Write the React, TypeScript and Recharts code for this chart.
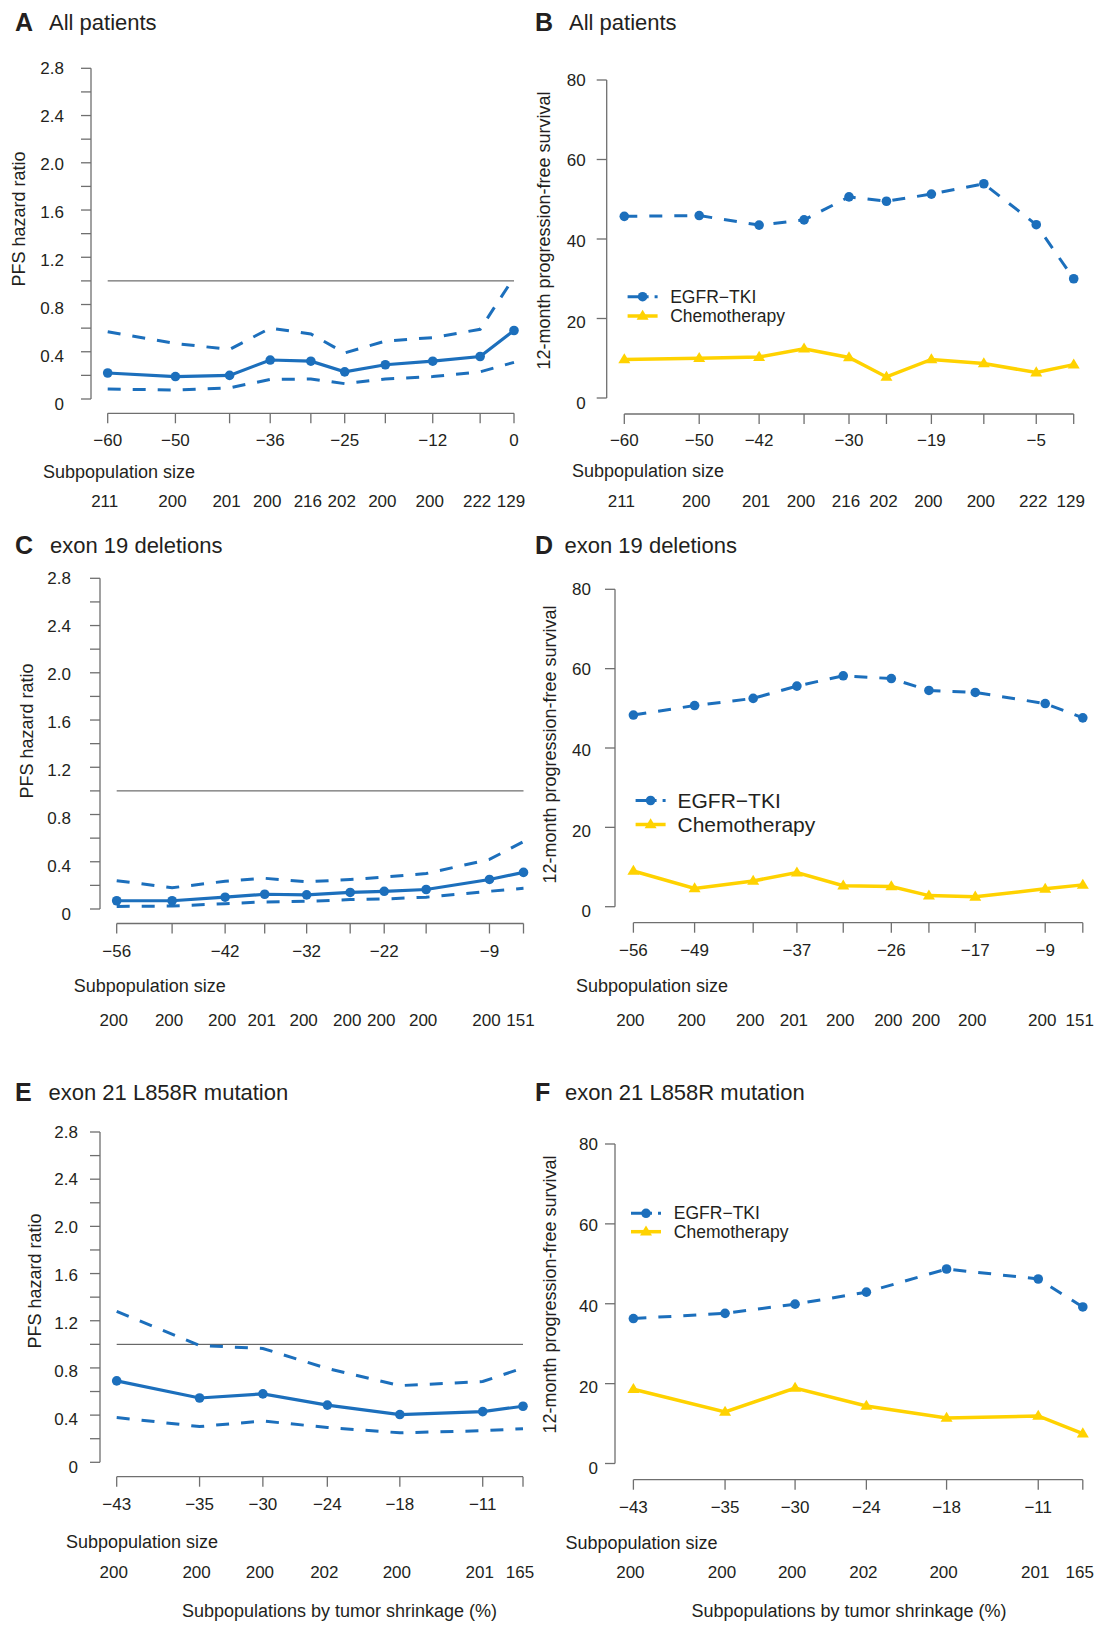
import React from 'react';
import { LineChart, Line, XAxis, YAxis, ReferenceLine } from 'recharts';

const FONT = '"Liberation Sans", Arial, Helvetica, sans-serif';
const BLUE = '#1c6fbc';
const YELLOW = '#ffd200';
const AXIS = '#6f6f6f';
const TEXT = '#231f20';
const TICK = 10;

// ---------- data ----------
const hrTicks = [0, 0.2, 0.4, 0.6, 0.8, 1.0, 1.2, 1.4, 1.6, 1.8, 2.0, 2.2, 2.4, 2.6, 2.8];
const hrTickLabels = ['0', '', '0.4', '', '0.8', '', '1.2', '', '1.6', '', '2.0', '', '2.4', '', '2.8'];
const pfsTicks = [0, 20, 40, 60, 80];
const pfsTickLabels = ['0', '20', '40', '60', '80'];

// All patients
const abX = [-60, -50, -42, -36, -30, -25, -19, -12, -5, 0];
const aXLabels = ['−60', '−50', '', '−36', '', '−25', '', '−12', '', '0'];
const bXLabels = ['−60', '−50', '−42', '', '−30', '', '−19', '', '−5', ''];
const abSizes = [211, 200, 201, 200, 216, 202, 200, 200, 222, 129];
const aHR = [0.22, 0.19, 0.2, 0.33, 0.32, 0.23, 0.29, 0.32, 0.36, 0.58];
const aHi = [0.57, 0.47, 0.42, 0.6, 0.55, 0.39, 0.49, 0.52, 0.59, 1.03];
const aLo = [0.085, 0.075, 0.095, 0.165, 0.17, 0.13, 0.17, 0.19, 0.23, 0.31];
const bTKI = [45.7, 45.9, 43.5, 44.8, 50.6, 49.5, 51.3, 53.9, 43.6, 30.0];
const bChemo = [9.7, 10.0, 10.3, 12.4, 10.2, 5.3, 9.7, 8.7, 6.4, 8.4];

// exon 19 deletions
const cdX = [-56, -49, -42.3, -37.3, -32, -26.5, -22.2, -16.9, -8.9, -4.6];
const cXLabels = ['−56', '', '−42', '', '−32', '', '−22', '', '−9', ''];
const dXLabels = ['−56', '−49', '', '−37', '', '−26', '', '−17', '−9', ''];
const cdSizes = [200, 200, 200, 201, 200, 200, 200, 200, 200, 151];
const cHR = [0.07, 0.07, 0.1, 0.125, 0.12, 0.14, 0.15, 0.165, 0.25, 0.31];
const cHi = [0.24, 0.18, 0.235, 0.26, 0.23, 0.25, 0.27, 0.3, 0.42, 0.57];
const cLo = [0.022, 0.025, 0.045, 0.06, 0.065, 0.08, 0.085, 0.1, 0.15, 0.175];
const dTKI = [48.3, 50.7, 52.5, 55.6, 58.2, 57.5, 54.5, 54.0, 51.2, 47.6];
const dChemo = [9.0, 4.6, 6.5, 8.6, 5.3, 5.1, 2.8, 2.5, 4.5, 5.5];

// exon 21 L858R mutation
const efX = [-42.6, -35.4, -29.9, -24.3, -18, -10.8, -7.3];
const efXLabels = ['−43', '−35', '−30', '−24', '−18', '−11', ''];
const efSizes = [200, 200, 200, 202, 200, 201, 165];
const eHR = [0.69, 0.545, 0.58, 0.485, 0.405, 0.43, 0.475];
const eHi = [1.28, 0.99, 0.965, 0.795, 0.65, 0.685, 0.8];
const eLo = [0.38, 0.303, 0.35, 0.295, 0.25, 0.268, 0.285];
const fTKI = [36.3, 37.6, 39.9, 42.9, 48.7, 46.2, 39.2];
const fChemo = [18.6, 12.9, 18.9, 14.4, 11.4, 11.9, 7.5];

// ---------- helpers ----------
const Triangle = (props: any) => {
  const { cx, cy } = props;
  if (cx == null || cy == null) return <g />;
  const h = 6.2;
  return (
    <polygon
      points={`${cx},${cy - h} ${cx - 6},${cy + h * 0.62} ${cx + 6},${cy + h * 0.62}`}
      fill={YELLOW}
      stroke="none"
    />
  );
};

type Layout = {
  box: { left: number; top: number; width: number; height: number };
  yAxisX: number;
  x0px: number;
  x1px: number;
  yTopPx: number;
  yZeroPx: number;
  xAxisPx: number;
  yLabelGap: number;
  xLabelDy: number;
  sizeDy: number;
};

type PanelProps = {
  layout: Layout;
  kind: 'hr' | 'pfs';
  xs: number[];
  xLabels: string[];
  sizes: number[];
  a: number[];
  b: number[];
  c?: number[];
};

function Panel({ layout, kind, xs, xLabels, sizes, a, b, c }: PanelProps) {
  const { box } = layout;
  const n = xs.length;
  const xFirst = xs[0];
  const xLast = xs[n - 1];
  const yTicks = kind === 'hr' ? hrTicks : pfsTicks;
  const yTickLabels = kind === 'hr' ? hrTickLabels : pfsTickLabels;
  const yMax = yTicks[yTicks.length - 1];
  const pxX = (layout.x1px - layout.x0px) / (xLast - xFirst);
  const xMin = xFirst - (layout.x0px - layout.yAxisX) / pxX;
  const pxY = (layout.yZeroPx - layout.yTopPx) / yMax;
  const yMin = -(layout.xAxisPx - layout.yZeroPx) / pxY;
  const YW = 60;
  const XH = 110;
  const margin = {
    left: layout.yAxisX - box.left - YW,
    top: layout.yTopPx - box.top,
    right: box.left + box.width - layout.x1px,
    bottom: box.top + box.height - layout.xAxisPx - XH,
  };

  const data = xs.map((x, i) =>
    kind === 'hr'
      ? { x, hr: a[i], lo: b[i], hi: (c as number[])[i] }
      : { x, tki: a[i], chemo: b[i] }
  );

  const renderYTick = (p: any) => {
    const v = p.payload.value;
    const idx = yTicks.indexOf(v);
    const lab = idx >= 0 ? yTickLabels[idx] : '';
    if (!lab) return <g />;
    const drift = 5 * (1 - v / yMax);
    return (
      <text
        x={p.x - (layout.yLabelGap - TICK)}
        y={p.y + drift}
        textAnchor="end"
        dominantBaseline="central"
        fontSize={17}
        fill={TEXT}
      >
        {lab}
      </text>
    );
  };

  const renderXTick = (p: any) => {
    const v = p.payload.value;
    const idx = xs.indexOf(v);
    const axisY = p.y - TICK;
    const lab = idx >= 0 ? xLabels[idx] : '';
    return (
      <g>
        {lab ? (
          <text x={p.x} y={axisY + layout.xLabelDy} textAnchor="middle" dominantBaseline="central" fontSize={17} fill={TEXT}>
            {lab}
          </text>
        ) : null}
        {idx >= 0 ? (
          <text x={p.x - 3} y={axisY + layout.sizeDy} textAnchor="middle" dominantBaseline="central" fontSize={17} fill={TEXT}>
            {sizes[idx]}
          </text>
        ) : null}
      </g>
    );
  };

  return (
    <div style={{ position: 'absolute', left: box.left, top: box.top, width: box.width, height: box.height }}>
      <LineChart width={box.width} height={box.height} data={data} margin={margin}>
        <XAxis
          type="number"
          dataKey="x"
          domain={[xMin, xLast]}
          ticks={xs}
          interval={0}
          tick={renderXTick}
          tickSize={TICK}
          tickMargin={0}
          tickLine={{ stroke: AXIS, strokeWidth: 1.3 }}
          axisLine={false}
          height={XH}
        />
        <YAxis
          type="number"
          domain={[yMin, yMax]}
          ticks={yTicks}
          interval={0}
          tick={renderYTick}
          tickSize={TICK}
          tickMargin={0}
          tickLine={{ stroke: AXIS, strokeWidth: 1.3 }}
          axisLine={false}
          width={YW}
        />
        <ReferenceLine
          segment={[{ x: xMin, y: 0 }, { x: xMin, y: yMax }]}
          stroke={AXIS}
          strokeWidth={1.3}
          ifOverflow="visible"
        />
        <ReferenceLine
          segment={[{ x: xFirst, y: yMin }, { x: xLast, y: yMin }]}
          stroke={AXIS}
          strokeWidth={1.3}
          ifOverflow="visible"
        />
        {kind === 'hr' ? (
          <ReferenceLine
            segment={[{ x: xFirst, y: 1 }, { x: xLast, y: 1 }]}
            stroke="#4a4a4a"
            strokeWidth={1}
            ifOverflow="visible"
          />
        ) : null}
        {kind === 'hr' ? (
          <Line type="linear" dataKey="hi" stroke={BLUE} strokeWidth={3} strokeDasharray="13 12" dot={false} isAnimationActive={false} />
        ) : null}
        {kind === 'hr' ? (
          <Line type="linear" dataKey="lo" stroke={BLUE} strokeWidth={3} strokeDasharray="13 12" dot={false} isAnimationActive={false} />
        ) : null}
        {kind === 'hr' ? (
          <Line
            type="linear"
            dataKey="hr"
            stroke={BLUE}
            strokeWidth={3.2}
            dot={{ r: 4.8, fill: BLUE, stroke: BLUE, strokeWidth: 0 }}
            isAnimationActive={false}
          />
        ) : null}
        {kind === 'pfs' ? (
          <Line
            type="linear"
            dataKey="tki"
            stroke={BLUE}
            strokeWidth={3}
            strokeDasharray="13 12"
            dot={{ r: 4.8, fill: BLUE, stroke: BLUE, strokeWidth: 0 }}
            isAnimationActive={false}
          />
        ) : null}
        {kind === 'pfs' ? (
          <Line type="linear" dataKey="chemo" stroke={YELLOW} strokeWidth={3.5} dot={<Triangle />} isAnimationActive={false} />
        ) : null}
      </LineChart>
    </div>
  );
}

const LegendBlock = ({ x0, y1, y2, fs, tx }: { x0: number; y1: number; y2: number; fs: number; tx: number }) => (
  <g>
    <line x1={x0} y1={y1} x2={x0 + 31} y2={y1} stroke={BLUE} strokeWidth={3} strokeDasharray="21 6 3 100" />
    <circle cx={x0 + 15} cy={y1} r={4.8} fill={BLUE} />
    <text x={tx} y={y1} dominantBaseline="central" fontSize={fs} fill={TEXT}>
      EGFR−TKI
    </text>
    <line x1={x0} y1={y2} x2={x0 + 30} y2={y2} stroke={YELLOW} strokeWidth={3.5} />
    <Triangle cx={x0 + 15} cy={y2} />
    <text x={tx} y={y2} dominantBaseline="central" fontSize={fs} fill={TEXT}>
      Chemotherapy
    </text>
  </g>
);

const Title = ({ lx, tx, y, letter, text }: { lx: number; tx: number; y: number; letter: string; text: string }) => (
  <g>
    <text x={lx} y={y} dominantBaseline="central" fontSize={25} fontWeight="bold" fill={TEXT}>
      {letter}
    </text>
    <text x={tx} y={y} dominantBaseline="central" fontSize={22} fill={TEXT}>
      {text}
    </text>
  </g>
);

const YTitle = ({ x, y, text }: { x: number; y: number; text: string }) => (
  <text
    x={x}
    y={y}
    transform={`rotate(-90 ${x} ${y})`}
    textAnchor="middle"
    dominantBaseline="central"
    fontSize={18}
    fill={TEXT}
  >
    {text}
  </text>
);

const SubLabel = ({ x, y }: { x: number; y: number }) => (
  <text x={x} y={y} dominantBaseline="central" fontSize={18} fill={TEXT}>
    Subpopulation size
  </text>
);

const layoutA: Layout = {
  box: { left: 0, top: 40, width: 550, height: 490 },
  yAxisX: 91, x0px: 107.7, x1px: 514, yTopPx: 68.3, yZeroPx: 399, xAxisPx: 413.3,
  yLabelGap: 27, xLabelDy: 26.7, sizeDy: 88.4,
};
const layoutB: Layout = {
  box: { left: 540, top: 40, width: 561, height: 490 },
  yAxisX: 606.7, x0px: 624.3, x1px: 1073.7, yTopPx: 80, yZeroPx: 398, xAxisPx: 414,
  yLabelGap: 21, xLabelDy: 26, sizeDy: 87.5,
};
const layoutC: Layout = {
  box: { left: 0, top: 560, width: 550, height: 480 },
  yAxisX: 100, x0px: 116.7, x1px: 523.5, yTopPx: 578.3, yZeroPx: 909, xAxisPx: 923.5,
  yLabelGap: 29, xLabelDy: 27.5, sizeDy: 96.5,
};
const layoutD: Layout = {
  box: { left: 540, top: 560, width: 561, height: 480 },
  yAxisX: 615, x0px: 633.4, x1px: 1082.8, yTopPx: 589.3, yZeroPx: 906.7, xAxisPx: 922.7,
  yLabelGap: 24, xLabelDy: 27.3, sizeDy: 97.3,
};
const layoutE: Layout = {
  box: { left: 0, top: 1110, width: 550, height: 490 },
  yAxisX: 100, x0px: 116.7, x1px: 523, yTopPx: 1132, yZeroPx: 1462.3, xAxisPx: 1476.7,
  yLabelGap: 22, xLabelDy: 27.3, sizeDy: 95.3,
};
const layoutF: Layout = {
  box: { left: 540, top: 1110, width: 561, height: 490 },
  yAxisX: 615, x0px: 633.4, x1px: 1082.8, yTopPx: 1144, yZeroPx: 1463.5, xAxisPx: 1479.7,
  yLabelGap: 17, xLabelDy: 27.3, sizeDy: 92.3,
};

export default function App() {
  return (
    <div
      style={{
        position: 'absolute',
        left: 0,
        top: 0,
        width: 1101,
        height: 1625,
        background: '#ffffff',
        fontFamily: FONT,
        overflow: 'hidden',
      }}
    >
      <Panel layout={layoutA} kind="hr" xs={abX} xLabels={aXLabels} sizes={abSizes} a={aHR} b={aLo} c={aHi} />
      <Panel layout={layoutB} kind="pfs" xs={abX} xLabels={bXLabels} sizes={abSizes} a={bTKI} b={bChemo} />
      <Panel layout={layoutC} kind="hr" xs={cdX} xLabels={cXLabels} sizes={cdSizes} a={cHR} b={cLo} c={cHi} />
      <Panel layout={layoutD} kind="pfs" xs={cdX} xLabels={dXLabels} sizes={cdSizes} a={dTKI} b={dChemo} />
      <Panel layout={layoutE} kind="hr" xs={efX} xLabels={efXLabels} sizes={efSizes} a={eHR} b={eLo} c={eHi} />
      <Panel layout={layoutF} kind="pfs" xs={efX} xLabels={efXLabels} sizes={efSizes} a={fTKI} b={fChemo} />
      <svg
        width={1101}
        height={1625}
        style={{ position: 'absolute', left: 0, top: 0, pointerEvents: 'none', fontFamily: FONT }}
      >
        <Title lx={15} tx={49} y={22} letter="A" text="All patients" />
        <Title lx={535} tx={569} y={22} letter="B" text="All patients" />
        <Title lx={15} tx={50} y={545} letter="C" text="exon 19 deletions" />
        <Title lx={535} tx={564.5} y={545} letter="D" text="exon 19 deletions" />
        <Title lx={15} tx={48.5} y={1092} letter="E" text="exon 21 L858R mutation" />
        <Title lx={535} tx={565} y={1092} letter="F" text="exon 21 L858R mutation" />

        <YTitle x={18.5} y={219} text="PFS hazard ratio" />
        <YTitle x={544} y={230.5} text="12-month progression-free survival" />
        <YTitle x={27.3} y={731} text="PFS hazard ratio" />
        <YTitle x={550} y={744.5} text="12-month progression-free survival" />
        <YTitle x={34.6} y={1281} text="PFS hazard ratio" />
        <YTitle x={550} y={1294.5} text="12-month progression-free survival" />

        <SubLabel x={43} y={471.5} />
        <SubLabel x={572} y={471} />
        <SubLabel x={73.7} y={986} />
        <SubLabel x={576} y={986} />
        <SubLabel x={66} y={1541.7} />
        <SubLabel x={565.5} y={1542.5} />

        <text x={339.5} y={1611} textAnchor="middle" dominantBaseline="central" fontSize={18} fill={TEXT}>
          Subpopulations by tumor shrinkage (%)
        </text>
        <text x={849} y={1611} textAnchor="middle" dominantBaseline="central" fontSize={18} fill={TEXT}>
          Subpopulations by tumor shrinkage (%)
        </text>

        <LegendBlock x0={627.6} y1={296.7} y2={316} fs={17.5} tx={670.2} />
        <LegendBlock x0={635.6} y1={800.5} y2={824.5} fs={21} tx={677.5} />
        <LegendBlock x0={631} y1={1213.3} y2={1231.7} fs={17.5} tx={673.8} />
      </svg>
    </div>
  );
}
